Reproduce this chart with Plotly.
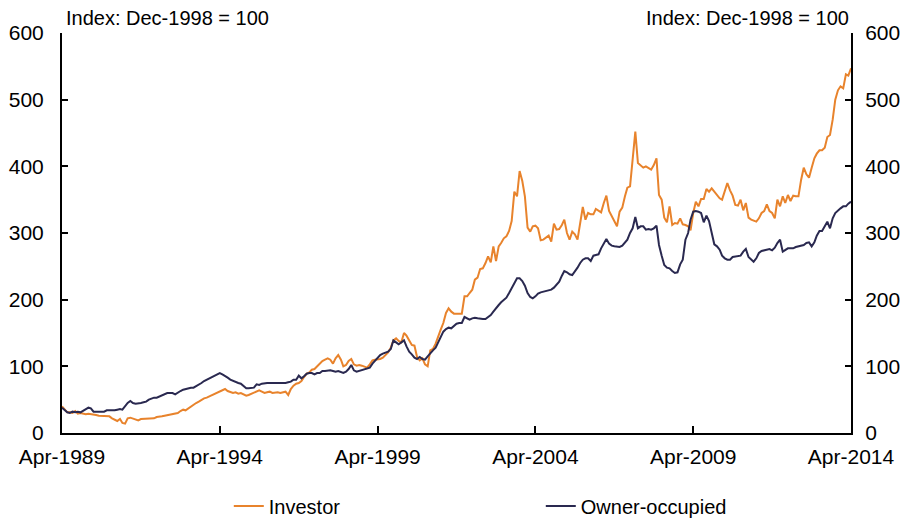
import pandas as pd
import plotly.graph_objects as go

# Monthly, Apr-1989 .. Apr-2014 (index: Dec-1998 = 100)
dates = pd.date_range("1989-04-01", periods=301, freq="MS")

investor = [
    40, 36, 31, 31, 30, 33, 29, 30, 29, 28, 29, 28,
    27, 27, 26, 26, 25, 26, 25, 22, 20, 18, 21, 15,
    14, 22, 23, 22, 21, 19, 21, 21, 22, 21, 21, 22,
    24, 24, 25, 26, 27, 28, 28, 29, 30, 33, 35, 34,
    37, 39, 43, 45, 47, 50, 52, 53, 55, 57, 58, 60,
    62, 64, 66, 63, 62, 60, 61, 59, 60, 58, 56, 57,
    59, 60, 62, 64, 62, 60, 61, 62, 60, 61, 61, 60,
    61, 62, 57, 66, 71, 74, 75, 78, 84, 89, 91, 95,
    96, 100, 105, 108, 110, 112, 110, 104, 112, 117, 110, 100,
    102, 108, 111, 103, 101, 102, 101, 100, 98, 103, 109, 110,
    110, 111, 113, 117, 121, 128, 139, 142, 138, 136, 150, 146,
    138, 132, 131, 114, 109, 112, 103, 100, 124, 126, 134, 145,
    155, 165, 180, 187, 182, 179, 179, 179, 179, 205, 205, 210,
    215, 230, 233, 246, 247, 255, 265, 256, 280, 258, 280, 285,
    292, 295, 303, 318, 362, 355, 393, 378, 355, 308, 302, 310,
    311, 307, 289, 290, 293, 296, 287, 314, 305, 306, 312, 320,
    300, 290, 302, 298, 290, 315, 339, 320, 330, 328, 328, 336,
    333, 331, 345, 356, 333, 325, 316, 310, 332, 338, 355, 368,
    370, 410, 452, 405, 402, 398, 400, 398, 395, 402, 412, 357,
    350, 323, 316, 340, 312, 315, 314, 322, 313, 312, 310, 304,
    330, 347, 340, 351, 351, 366, 362, 367, 362, 358, 352, 350,
    364, 375, 364, 356, 342, 341, 350, 334, 345, 323, 320, 318,
    317, 322, 330, 333, 343, 333, 330, 322, 350, 340, 355, 345,
    357, 348, 356, 355, 355, 380, 398, 388, 383, 398, 412, 419,
    424, 424, 428, 444, 447, 470, 500, 514, 520, 517, 538, 536,
    547,
]

owner_occupied = [
    38, 34, 31, 30, 32, 31, 32, 31, 33, 36, 38, 37,
    32, 32, 32, 32, 32, 34, 34, 33, 34, 35, 36, 35,
    40, 45, 48, 45, 44, 44, 45, 46, 47, 50, 52, 53,
    53, 55, 56, 58, 60, 60, 60, 58, 61, 63, 65, 66,
    67, 68, 68, 70, 73, 75, 78, 80, 81, 83, 85, 88,
    90, 88, 86, 83, 80, 78, 76, 75, 74, 70, 67, 67,
    67, 68, 73, 72, 74, 75, 75, 75, 75, 74, 75, 75,
    75, 75, 76, 77, 80, 80, 86, 82, 85, 89, 90, 90,
    88, 90, 90, 93, 93, 94, 94, 93, 92, 93, 92, 90,
    92, 96, 102, 94, 92, 93, 95, 96, 96, 98, 104, 108,
    112, 117, 119, 121, 122, 126, 139, 136, 133, 136, 139, 130,
    122, 118, 113, 111, 114, 111, 110, 115, 120, 124, 128, 135,
    143, 152, 156, 158, 157, 160, 164, 165, 165, 174, 172, 170,
    172, 173, 172, 171, 171, 171, 174, 177, 182, 188, 192, 196,
    199, 203, 210, 218, 226, 232, 232, 228, 221, 210, 204, 202,
    205, 209, 211, 212, 212, 213, 215, 218, 223, 227, 236, 243,
    241, 238, 237, 242, 248, 255, 260, 262, 262, 258, 266, 267,
    268, 277, 284, 291, 284, 281, 280, 279, 279, 281, 285, 290,
    300, 307, 324, 307, 310, 310, 305, 306, 305, 307, 311, 282,
    266, 252, 248, 247, 243, 240, 241, 253, 260, 290, 300, 320,
    332, 333, 332, 330, 316, 326, 318, 298, 283, 280, 275, 266,
    262, 260, 260, 264, 265, 265, 266, 272, 276, 264, 260, 257,
    262, 270, 273, 274, 276, 276, 274, 278, 285, 290, 272, 274,
    277, 277, 277, 279, 280, 282, 282, 285, 286, 280, 286, 296,
    303, 303, 311, 317, 307, 322, 330, 334, 337, 340, 340, 344,
    347,
]

tick_dates = ["1989-04-01", "1994-04-01", "1999-04-01", "2004-04-01", "2009-04-01", "2014-04-01"]
tick_labels = ["Apr-1989", "Apr-1994", "Apr-1999", "Apr-2004", "Apr-2009", "Apr-2014"]
y_ticks = [0, 100, 200, 300, 400, 500, 600]
axis_note = "Index: Dec-1998 = 100"

ORANGE = "#E8832C"
NAVY = "#2A2950"
FONT = "Liberation Sans, Arial, sans-serif"

fig = go.Figure()
fig.add_trace(go.Scatter(x=dates, y=investor, name="Investor", mode="lines",
                         line=dict(color=ORANGE, width=2)))
fig.add_trace(go.Scatter(x=dates, y=owner_occupied, name="Owner-occupied", mode="lines",
                         line=dict(color=NAVY, width=2)))
# invisible trace to anchor the right-hand axis
fig.add_trace(go.Scatter(x=dates, y=owner_occupied, yaxis="y2", mode="lines",
                         line=dict(width=0), showlegend=False, hoverinfo="skip"))

def axis_style(ticklen, standoff):
    return dict(showline=True, linecolor="black", linewidth=2, ticks="inside",
                ticklen=ticklen, tickwidth=1.5, tickcolor="black", showgrid=False,
                zeroline=False, ticklabelstandoff=standoff, automargin=False,
                tickfont=dict(size=21, color="black", family=FONT))

# the page body has an 8px margin, so the figure is 8px smaller than the window
fig.update_layout(
    width=900, height=511,
    margin=dict(l=54, r=57, t=25, b=86, autoexpand=False),
    paper_bgcolor="white", plot_bgcolor="white",
    font=dict(family=FONT, size=20, color="black"),
    xaxis=dict(range=[tick_dates[0], tick_dates[-1]], tickvals=tick_dates, ticktext=tick_labels,
               **axis_style(7, 4)),
    yaxis=dict(range=[0, 600], tickvals=y_ticks, **axis_style(6, 12)),
    yaxis2=dict(range=[0, 600], tickvals=y_ticks, overlaying="y", side="right", **axis_style(6, 8)),
    legend=dict(orientation="h", x=0.2114, xanchor="left", y=-0.1825, yanchor="middle",
                font=dict(size=20, color="black"), entrywidth=267, entrywidthmode="pixels",
                bgcolor="rgba(0,0,0,0)"),
    showlegend=True,
    annotations=[
        dict(text=axis_note, x=0.003, xref="paper", xanchor="left", y=1.0, yref="paper",
             yanchor="bottom", yshift=2, showarrow=False, font=dict(size=20, color="black")),
        dict(text=axis_note, x=1.0, xref="paper", xanchor="right", y=1.0, yref="paper",
             yanchor="bottom", yshift=2, showarrow=False, font=dict(size=20, color="black")),
    ],
)

fig.write_html("out.html")
